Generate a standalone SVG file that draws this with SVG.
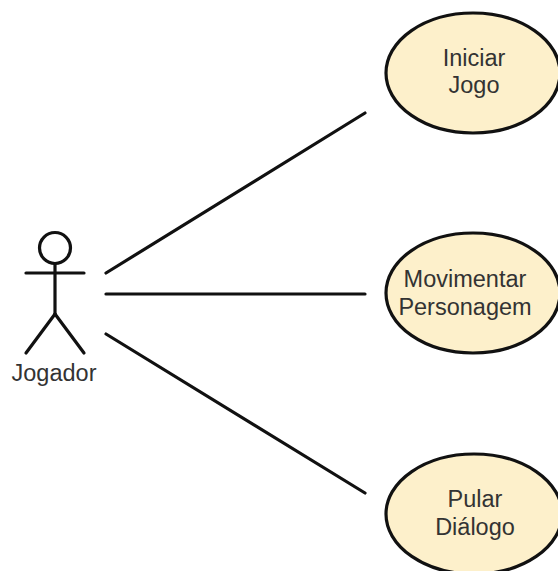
<svg xmlns="http://www.w3.org/2000/svg" width="558" height="571" viewBox="0 0 558 571">
<style>
.uc{fill:#fdf0cb;stroke:#111;stroke-width:3.2}
.t{font-family:"Liberation Sans",Arial,sans-serif;font-size:23.5px;fill:#333;text-anchor:middle}
.ln{stroke:#111;stroke-width:3.2;fill:none;stroke-linecap:round}
</style>
<rect width="558" height="571" fill="#fff"/>
<g id="connectors">
<line class="ln" x1="106" y1="273" x2="365" y2="113"/>
<line class="ln" x1="106" y1="294" x2="365" y2="294"/>
<line class="ln" x1="106" y1="334" x2="365" y2="493"/>
</g>
<g id="actor">
<circle class="ln" cx="55" cy="248" r="15.5"/>
<line class="ln" x1="26" y1="273" x2="84" y2="273"/>
<line class="ln" x1="55" y1="264" x2="55" y2="314"/>
<line class="ln" x1="55" y1="314" x2="26" y2="353"/>
<line class="ln" x1="55" y1="314" x2="84" y2="353"/>
<text class="t" x="54" y="381">Jogador</text>
</g>
<g id="uc1">
<ellipse class="uc" cx="473" cy="73" rx="87" ry="60"/>
<text class="t" x="474" y="66">Iniciar</text>
<text class="t" x="474" y="93">Jogo</text>
</g>
<g id="uc2">
<ellipse class="uc" cx="473" cy="293" rx="87" ry="60"/>
<text class="t" x="465" y="287">Movimentar</text>
<text class="t" x="465" y="315">Personagem</text>
</g>
<g id="uc3">
<ellipse class="uc" cx="474" cy="514" rx="88" ry="60"/>
<text class="t" x="475" y="507">Pular</text>
<text class="t" x="475" y="535">Diálogo</text>
</g>
</svg>
